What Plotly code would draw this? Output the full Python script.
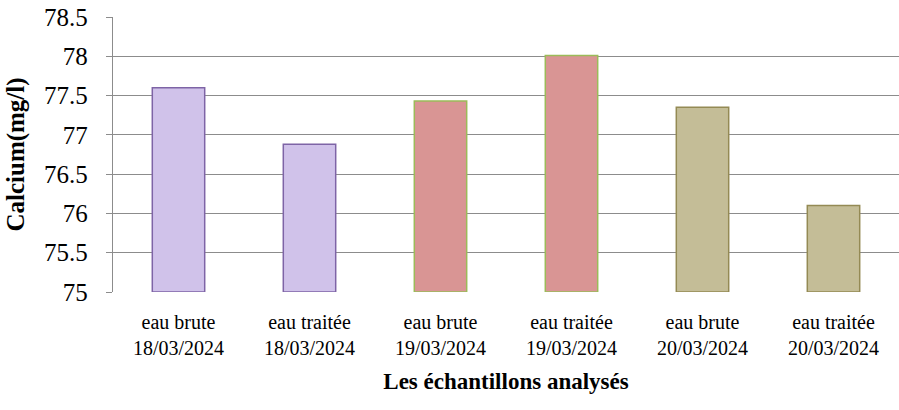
import plotly.graph_objects as go

samples = ["eau brute", "eau traitée", "eau brute", "eau traitée", "eau brute", "eau traitée"]
dates = ["18/03/2024", "18/03/2024", "19/03/2024", "19/03/2024", "20/03/2024", "20/03/2024"]
calcium = [77.60, 76.88, 77.43, 78.01, 77.35, 76.10]
fill_colors = ["#D0C2EA", "#D0C2EA", "#D99594", "#D99594", "#C4BD97", "#C4BD97"]
line_colors = ["#7E64A6", "#7E64A6", "#9BBB59", "#9BBB59", "#948A54", "#948A54"]
y_ticks = [75, 75.5, 76, 76.5, 77, 77.5, 78, 78.5]

FONT = "Liberation Serif"
TICKFONT = "Tinos"

categories = [f"{s}<br>{d}" for s, d in zip(samples, dates)]
x_idx = list(range(len(categories)))

fig = go.Figure()
fig.add_trace(go.Bar(
    x=x_idx,
    y=[v - 75 for v in calcium],
    base=75,
    marker=dict(color=fill_colors, line=dict(color=line_colors, width=1.5)),
    width=0.4,
    showlegend=False,
))

fig.update_layout(
    template="none",
    width=899, height=410,
    margin=dict(l=113, r=0, t=17, b=118),
    paper_bgcolor="white", plot_bgcolor="white",
    font=dict(family=FONT, color="black"),
    xaxis=dict(
        tickmode="array", tickvals=x_idx, ticktext=categories,
        range=[-0.5, 5.5], showgrid=False, showline=False, ticks="",
        tickfont=dict(family=TICKFONT, size=20, color="black"), automargin=False,
        ticklabelstandoff=16,
        title=dict(text="<b>Les échantillons analysés</b>",
                   font=dict(family=FONT, size=23, color="black"), standoff=14),
    ),
    yaxis=dict(
        range=[75, 78.5], tickmode="array", tickvals=y_ticks,
        ticktext=[f"{v:g}" for v in y_ticks],
        showgrid=True, gridcolor="#8C8C8C", gridwidth=1.3,
        showline=True, linecolor="#8C8C8C", linewidth=1.3,
        ticks="outside", ticklen=6, tickcolor="#8C8C8C", tickwidth=1.3,
        tickfont=dict(family=TICKFONT, size=25, color="black"), automargin=False, zeroline=False,
        ticklabelstandoff=13,
        title=dict(text="<b>Calcium(mg/l)</b>",
                   font=dict(family=FONT, size=25, color="black"), standoff=12),
    ),
)

fig.write_html(
    "out.html",
    config={"displayModeBar": False},
    post_script="document.body.style.margin='0';document.body.style.overflow='hidden';",
)
